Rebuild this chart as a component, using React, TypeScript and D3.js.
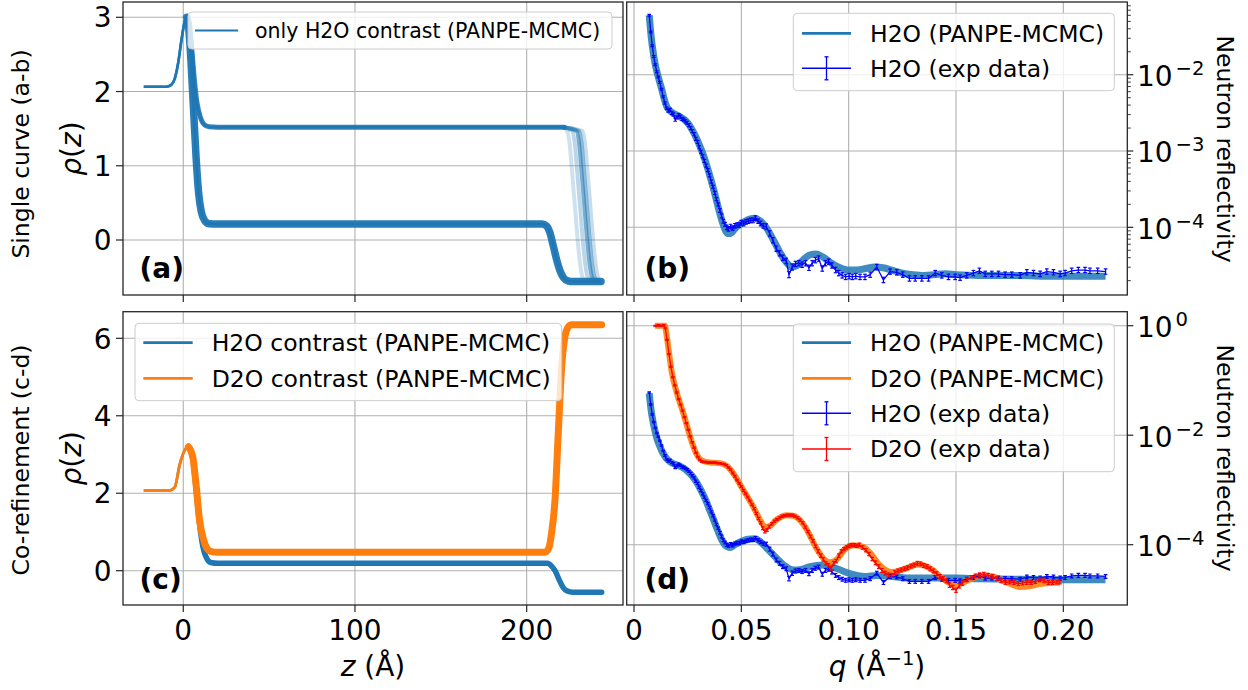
import React from 'react';
import * as d3 from 'd3';

type P = [number, number];
type E = [number, number, number];

const FONT = "'DejaVu Sans', sans-serif";
const BLUE = '#1f77b4';
const ORANGE = '#ff7f0e';
const EXP_BLUE = '#0000ff';
const EXP_RED = '#ff0000';

// ---------- ticks ----------
const zTicks = [0, 100, 200];
const zTickLabels = ['0', '100', '200'];
const rhoTicksA = [0, 1, 2, 3];
const rhoTicksC = [0, 2, 4, 6];
const qTicks = [0, 0.05, 0.1, 0.15, 0.2];
const qTickLabels = ['0', '0.05', '0.10', '0.15', '0.20'];
const logTicksB = [-2, -3, -4];
const logTicksD = [0, -2, -4];

// ---------- panel (a): SLD profiles, single H2O contrast ----------
const profALower: P[] = [[-23, 2.065], [-10, 2.065], [-7, 2.09], [-5, 2.17], [-3, 2.38], [-1, 2.7], [1, 2.96], [2, 3.0], [3, 2.9], [4.5, 2.4], [6, 1.75], [7.5, 1.1], [9, 0.62], [10.5, 0.38], [12.5, 0.26], [15, 0.22], [20, 0.215], [209, 0.215], [211.5, 0.19], [213.5, 0.1], [215.5, -0.08], [217.5, -0.27], [219.5, -0.42], [221.5, -0.51], [224, -0.55], [227, -0.56], [243.3, -0.56]];
const profAUpper: P[] = [[-23, 2.065], [-10, 2.065], [-7, 2.09], [-5, 2.17], [-3, 2.38], [-1, 2.7], [1, 2.96], [2, 3.0], [3.5, 2.85], [5, 2.55], [6.5, 2.15], [8, 1.85], [10, 1.65], [12, 1.56], [15, 1.525], [20, 1.52], [222, 1.52]];
const profAUpperEdges: P[][] = [
  [[221, 1.52], [223.5, 1.47], [225, 1.3], [226.5, 0.9], [228, 0.48], [229.5, 0.05], [231, -0.3], [232.5, -0.5], [235, -0.56], [243.3, -0.56]],
  [[221, 1.52], [226.5, 1.47], [228, 1.3], [229.5, 0.9], [231, 0.48], [232.5, 0.05], [234, -0.3], [235.5, -0.5], [238, -0.56], [243.3, -0.56]],
  [[221, 1.52], [229, 1.47], [230.5, 1.3], [232, 0.9], [233.5, 0.48], [235, 0.05], [236.5, -0.3], [238, -0.5], [240.5, -0.56], [243.3, -0.56]],
  [[221, 1.52], [230.5, 1.47], [232, 1.3], [233.5, 0.9], [235, 0.48], [236.5, 0.05], [238, -0.3], [239.5, -0.5], [242, -0.56], [243.3, -0.56]],
  [[221, 1.52], [232.5, 1.47], [234, 1.3], [235.5, 0.9], [237, 0.48], [238.5, 0.05], [240, -0.3], [241.5, -0.5], [243, -0.56], [243.3, -0.56]],
];
const profAUpperEdgeAlpha = [0.22, 0.3, 0.6, 0.5, 0.25];

// ---------- panel (c): SLD profiles, co-refinement ----------
const profCH2O: P[] = [[-23, 2.07], [-8, 2.07], [-5, 2.15], [-2, 2.75], [1, 3.12], [3, 3.2], [5.5, 2.9], [7.5, 2.1], [9.5, 1.2], [11.5, 0.6], [13.5, 0.33], [16, 0.21], [20, 0.19], [212, 0.19], [214.5, 0.12], [216.5, 0.0], [219.4, -0.28], [221.5, -0.45], [223.3, -0.52], [227, -0.56], [243.7, -0.56]];
const profCD2O: P[] = [[-23, 2.07], [-8, 2.07], [-5, 2.15], [-2, 2.75], [1, 3.12], [3, 3.2], [5.5, 2.95], [7.5, 2.2], [9.5, 1.3], [11.5, 0.85], [13.5, 0.6], [16, 0.5], [20, 0.475], [210.7, 0.475], [213, 0.6], [214.5, 0.97], [216.5, 1.83], [218.4, 3.55], [220.4, 5.27], [222.3, 6.05], [224, 6.28], [226.2, 6.35], [243.7, 6.35]];

// ---------- reflectivity: log10(R) vs q ----------
const modelB_H2O: P[] = [[0.0071, -1.22], [0.008, -1.5], [0.009, -1.72], [0.01, -1.88], [0.011, -2.0], [0.012, -2.1], [0.013, -2.2], [0.014, -2.31], [0.015, -2.4], [0.016, -2.45], [0.018, -2.5], [0.02, -2.53], [0.022, -2.56], [0.024, -2.6], [0.026, -2.67], [0.028, -2.77], [0.03, -2.89], [0.032, -3.03], [0.034, -3.2], [0.036, -3.39], [0.038, -3.6], [0.04, -3.82], [0.042, -4.0], [0.0435, -4.08], [0.045, -4.08], [0.047, -4.02], [0.05, -3.95], [0.053, -3.9], [0.056, -3.88], [0.059, -3.92], [0.062, -4.02], [0.065, -4.17], [0.068, -4.33], [0.071, -4.46], [0.0735, -4.52], [0.076, -4.5], [0.079, -4.42], [0.082, -4.36], [0.085, -4.35], [0.088, -4.39], [0.092, -4.47], [0.096, -4.53], [0.1, -4.56], [0.104, -4.56], [0.108, -4.54], [0.112, -4.52], [0.116, -4.53], [0.12, -4.56], [0.125, -4.6], [0.13, -4.62], [0.135, -4.63], [0.14, -4.62], [0.145, -4.61], [0.15, -4.62], [0.16, -4.63], [0.17, -4.63], [0.18, -4.63], [0.19, -4.64], [0.2, -4.64], [0.21, -4.64], [0.2197, -4.64]];
const modelD_H2O: P[] = [[0.0071, -1.235], [0.008, -1.55], [0.009, -1.78], [0.01, -1.96], [0.011, -2.1], [0.012, -2.2], [0.013, -2.29], [0.014, -2.36], [0.015, -2.42], [0.017, -2.49], [0.019, -2.53], [0.021, -2.56], [0.023, -2.6], [0.025, -2.66], [0.027, -2.74], [0.029, -2.85], [0.031, -2.99], [0.033, -3.15], [0.035, -3.34], [0.037, -3.54], [0.039, -3.74], [0.041, -3.92], [0.043, -4.03], [0.0447, -4.05], [0.047, -4.0], [0.05, -3.94], [0.053, -3.9], [0.0564, -3.89], [0.059, -3.95], [0.062, -4.07], [0.0665, -4.25], [0.07, -4.38], [0.0742, -4.46], [0.078, -4.45], [0.082, -4.4], [0.0882, -4.37], [0.094, -4.43], [0.1, -4.52], [0.1075, -4.58], [0.113, -4.56], [0.12, -4.58], [0.13, -4.61], [0.14, -4.61], [0.15, -4.61], [0.16, -4.62], [0.18, -4.63], [0.2, -4.64], [0.2196, -4.64]];
const modelD_D2O: P[] = [[0.0098, 0.0], [0.0144, 0.0], [0.0152, -0.18], [0.0176, -0.85], [0.0199, -1.22], [0.023, -1.6], [0.0269, -2.12], [0.0292, -2.35], [0.0315, -2.46], [0.0354, -2.5], [0.04, -2.51], [0.0432, -2.56], [0.0463, -2.7], [0.0509, -3.0], [0.0556, -3.31], [0.0595, -3.6], [0.061, -3.68], [0.0633, -3.66], [0.0665, -3.54], [0.0711, -3.46], [0.0742, -3.47], [0.0773, -3.55], [0.0804, -3.72], [0.0851, -4.07], [0.089, -4.28], [0.0913, -4.32], [0.0944, -4.27], [0.0983, -4.08], [0.1021, -4.01], [0.1068, -4.04], [0.11, -4.15], [0.1146, -4.38], [0.12, -4.5], [0.1254, -4.45], [0.1324, -4.36], [0.1387, -4.45], [0.1433, -4.6], [0.1472, -4.7], [0.151, -4.72], [0.155, -4.66], [0.1627, -4.56], [0.1673, -4.58], [0.172, -4.66], [0.1767, -4.74], [0.1798, -4.77], [0.1844, -4.76], [0.189, -4.72], [0.1938, -4.7], [0.1984, -4.69]];

// experimental data: [q, log10 R, error in log10 units]
const expH2O: E[] = [[0.0071, -1.22, 0.012], [0.0078, -1.44, 0.012], [0.0085, -1.62, 0.012], [0.0092, -1.76, 0.012], [0.0099, -1.87, 0.012], [0.0106, -1.96, 0.012], [0.0113, -2.03, 0.012], [0.012, -2.1, 0.012], [0.0128, -2.19, 0.012], [0.0136, -2.29, 0.012], [0.0144, -2.37, 0.015], [0.0152, -2.44, 0.015], [0.016, -2.47, 0.02], [0.0168, -2.46, 0.02], [0.0176, -2.5, 0.02], [0.0184, -2.52, 0.02], [0.0192, -2.59, 0.02], [0.02, -2.56, 0.02], [0.0208, -2.53, 0.02], [0.0216, -2.55, 0.02], [0.0224, -2.58, 0.02], [0.0232, -2.59, 0.02], [0.024, -2.61, 0.02], [0.0248, -2.63, 0.02], [0.0256, -2.66, 0.02], [0.0264, -2.7, 0.02], [0.0272, -2.74, 0.02], [0.028, -2.78, 0.02], [0.0288, -2.84, 0.02], [0.0296, -2.88, 0.02], [0.0304, -2.95, 0.02], [0.0312, -3.01, 0.02], [0.032, -3.07, 0.02], [0.0328, -3.13, 0.02], [0.0336, -3.19, 0.02], [0.0344, -3.25, 0.02], [0.0352, -3.32, 0.02], [0.036, -3.4, 0.02], [0.0368, -3.47, 0.02], [0.0376, -3.55, 0.02], [0.0384, -3.63, 0.02], [0.0392, -3.7, 0.02], [0.04, -3.78, 0.025], [0.0408, -3.85, 0.025], [0.0416, -3.92, 0.025], [0.0424, -3.96, 0.025], [0.0432, -4.0, 0.03], [0.044, -4.02, 0.03], [0.045, -3.99, 0.03], [0.046, -4.01, 0.03], [0.047, -3.98, 0.03], [0.048, -3.97, 0.03], [0.049, -3.97, 0.03], [0.05, -3.94, 0.03], [0.0511, -3.95, 0.03], [0.0522, -3.93, 0.03], [0.0533, -3.92, 0.03], [0.0544, -3.91, 0.03], [0.0555, -3.91, 0.03], [0.0566, -3.88, 0.03], [0.0578, -3.92, 0.03], [0.059, -3.95, 0.03], [0.0602, -3.98, 0.03], [0.0616, -3.99, 0.035], [0.0632, -4.08, 0.035], [0.0647, -4.17, 0.035], [0.0663, -4.28, 0.035], [0.0678, -4.34, 0.035], [0.0693, -4.4, 0.035], [0.0709, -4.44, 0.035], [0.0722, -4.62, 0.04], [0.0737, -4.52, 0.04], [0.0752, -4.48, 0.035], [0.0768, -4.47, 0.035], [0.0783, -4.49, 0.035], [0.0799, -4.47, 0.035], [0.0815, -4.53, 0.035], [0.083, -4.47, 0.035], [0.0845, -4.43, 0.035], [0.086, -4.41, 0.035], [0.0877, -4.54, 0.035], [0.0892, -4.47, 0.035], [0.0907, -4.45, 0.035], [0.0922, -4.5, 0.035], [0.0939, -4.56, 0.035], [0.0954, -4.6, 0.035], [0.097, -4.63, 0.035], [0.0986, -4.65, 0.035], [0.1002, -4.64, 0.035], [0.1017, -4.65, 0.035], [0.1033, -4.64, 0.035], [0.1053, -4.65, 0.035], [0.1076, -4.65, 0.035], [0.11, -4.62, 0.035], [0.1131, -4.52, 0.035], [0.1162, -4.69, 0.035], [0.1193, -4.58, 0.035], [0.1224, -4.59, 0.035], [0.1252, -4.62, 0.035], [0.1283, -4.67, 0.035], [0.131, -4.67, 0.035], [0.1341, -4.67, 0.035], [0.1372, -4.67, 0.035], [0.1403, -4.6, 0.035], [0.1434, -4.63, 0.035], [0.1465, -4.65, 0.035], [0.1496, -4.65, 0.035], [0.1519, -4.66, 0.035], [0.155, -4.63, 0.035], [0.1581, -4.6, 0.035], [0.1609, -4.57, 0.035], [0.1636, -4.61, 0.035], [0.1667, -4.61, 0.035], [0.1698, -4.61, 0.035], [0.1729, -4.62, 0.035], [0.176, -4.62, 0.035], [0.1799, -4.63, 0.035], [0.183, -4.59, 0.035], [0.1861, -4.6, 0.035], [0.1892, -4.61, 0.035], [0.1923, -4.58, 0.035], [0.1954, -4.59, 0.035], [0.1985, -4.61, 0.035], [0.2008, -4.6, 0.035], [0.2039, -4.57, 0.035], [0.207, -4.56, 0.035], [0.2101, -4.56, 0.035], [0.2124, -4.57, 0.035], [0.216, -4.57, 0.035], [0.2197, -4.58, 0.035]];
const expD2O: E[] = [[0.0098, 0.0, 0.008], [0.0106, 0.0, 0.008], [0.0114, 0.01, 0.008], [0.0122, 0.0, 0.008], [0.013, 0.0, 0.008], [0.0138, 0.01, 0.008], [0.0146, -0.05, 0.01], [0.0154, -0.26, 0.01], [0.0163, -0.52, 0.01], [0.0172, -0.75, 0.01], [0.0181, -0.94, 0.01], [0.019, -1.09, 0.01], [0.0199, -1.22, 0.01], [0.0208, -1.34, 0.01], [0.0217, -1.44, 0.01], [0.0226, -1.55, 0.01], [0.0235, -1.67, 0.01], [0.0244, -1.78, 0.01], [0.0253, -1.9, 0.01], [0.0262, -2.02, 0.012], [0.0271, -2.13, 0.012], [0.028, -2.23, 0.012], [0.0289, -2.32, 0.012], [0.0298, -2.4, 0.012], [0.0307, -2.45, 0.012], [0.0316, -2.48, 0.012], [0.0325, -2.49, 0.012], [0.0334, -2.49, 0.012], [0.0343, -2.5, 0.012], [0.0352, -2.5, 0.012], [0.0361, -2.5, 0.012], [0.037, -2.5, 0.012], [0.038, -2.5, 0.012], [0.039, -2.51, 0.012], [0.04, -2.51, 0.012], [0.041, -2.52, 0.012], [0.042, -2.53, 0.012], [0.043, -2.55, 0.012], [0.044, -2.59, 0.012], [0.045, -2.63, 0.015], [0.046, -2.69, 0.015], [0.047, -2.75, 0.015], [0.048, -2.82, 0.015], [0.049, -2.88, 0.015], [0.05, -2.94, 0.015], [0.051, -3.01, 0.015], [0.052, -3.07, 0.015], [0.053, -3.13, 0.015], [0.054, -3.2, 0.015], [0.055, -3.27, 0.015], [0.056, -3.34, 0.02], [0.057, -3.43, 0.02], [0.058, -3.52, 0.02], [0.059, -3.6, 0.02], [0.06, -3.7, 0.025], [0.061, -3.76, 0.025], [0.062, -3.73, 0.025], [0.063, -3.67, 0.025], [0.0642, -3.62, 0.02], [0.0654, -3.57, 0.02], [0.0666, -3.54, 0.02], [0.0678, -3.51, 0.02], [0.069, -3.48, 0.02], [0.0702, -3.47, 0.02], [0.0714, -3.46, 0.02], [0.0726, -3.46, 0.02], [0.0738, -3.46, 0.02], [0.075, -3.48, 0.02], [0.0762, -3.51, 0.02], [0.0774, -3.55, 0.02], [0.0786, -3.6, 0.02], [0.0798, -3.68, 0.02], [0.081, -3.76, 0.02], [0.0822, -3.85, 0.025], [0.0834, -3.93, 0.025], [0.0846, -4.03, 0.025], [0.0858, -4.12, 0.03], [0.087, -4.2, 0.03], [0.0882, -4.27, 0.03], [0.0894, -4.34, 0.03], [0.0906, -4.38, 0.035], [0.0918, -4.43, 0.035], [0.093, -4.34, 0.035], [0.0942, -4.3, 0.03], [0.0954, -4.2, 0.03], [0.0966, -4.12, 0.03], [0.0978, -4.08, 0.03], [0.099, -4.05, 0.03], [0.1002, -4.02, 0.03], [0.1014, -4.01, 0.03], [0.1026, -4.01, 0.03], [0.1038, -4.02, 0.03], [0.105, -4.0, 0.03], [0.1065, -4.05, 0.03], [0.108, -4.1, 0.03], [0.1095, -4.17, 0.03], [0.111, -4.26, 0.03], [0.1125, -4.33, 0.035], [0.114, -4.4, 0.035], [0.1155, -4.47, 0.035], [0.117, -4.52, 0.035], [0.1185, -4.55, 0.035], [0.12, -4.56, 0.035], [0.1215, -4.51, 0.035], [0.123, -4.48, 0.035], [0.1245, -4.46, 0.035], [0.126, -4.44, 0.035], [0.1275, -4.42, 0.035], [0.129, -4.39, 0.035], [0.1305, -4.37, 0.035], [0.132, -4.34, 0.035], [0.1335, -4.35, 0.035], [0.135, -4.38, 0.035], [0.1365, -4.4, 0.035], [0.138, -4.44, 0.035], [0.1395, -4.48, 0.035], [0.141, -4.53, 0.035], [0.1425, -4.58, 0.035], [0.144, -4.62, 0.035], [0.1455, -4.66, 0.035], [0.147, -4.74, 0.04], [0.1485, -4.78, 0.04], [0.15, -4.83, 0.04], [0.1515, -4.75, 0.04], [0.153, -4.7, 0.04], [0.155, -4.64, 0.035], [0.157, -4.6, 0.035], [0.159, -4.57, 0.035], [0.161, -4.55, 0.035], [0.163, -4.54, 0.035], [0.165, -4.56, 0.035], [0.167, -4.58, 0.035], [0.169, -4.62, 0.035], [0.171, -4.66, 0.035], [0.173, -4.69, 0.035], [0.175, -4.68, 0.035], [0.177, -4.69, 0.035], [0.179, -4.71, 0.035], [0.181, -4.7, 0.035], [0.183, -4.69, 0.035], [0.185, -4.69, 0.035], [0.187, -4.67, 0.035], [0.189, -4.64, 0.035], [0.191, -4.66, 0.035], [0.193, -4.69, 0.035], [0.195, -4.69, 0.035], [0.197, -4.68, 0.035], [0.1984, -4.68, 0.035]];

// ---------- layout ----------
const LEFT = { x0: 123, x1: 623 };
const RIGHT = { x0: 626.7, x1: 1127.3 };
const TOP = { y0: 2, y1: 295 };
const BOT = { y0: 311.7, y1: 605 };
const TICK_FS = 28;
const LEG_FS = 23.5;

const zScale = d3.scaleLinear().domain([-35.1, 256.1]).range([LEFT.x0, LEFT.x1]);
const rhoA = d3.scaleLinear().domain([-0.741, 3.206]).range([TOP.y1, TOP.y0]);
const rhoC = d3.scaleLinear().domain([-0.886, 6.687]).range([BOT.y1, BOT.y0]);
const qScale = d3.scaleLinear().domain([-0.0034, 0.2298]).range([RIGHT.x0, RIGHT.x1]);
const RB = d3.scaleLog().domain([Math.pow(10, -4.887), Math.pow(10, -1.047)]).range([TOP.y1, TOP.y0]);
const RD = d3.scaleLog().domain([Math.pow(10, -5.101), Math.pow(10, 0.2557)]).range([BOT.y1, BOT.y0]);

function profPath(data: P[], ys: d3.ScaleLinear<number, number>) {
  return d3.line<P>().x(d => zScale(d[0])).y(d => ys(d[1])).curve(d3.curveMonotoneX)(data) || '';
}
function reflPath(data: P[], ys: d3.ScaleLogarithmic<number, number>, smooth: boolean) {
  const l = d3.line<P>().x(d => qScale(d[0])).y(d => ys(Math.pow(10, d[1])));
  if (smooth) l.curve(d3.curveMonotoneX);
  return l(data) || '';
}

function Grid({ xs, ys, box }: { xs: number[]; ys: number[]; box: { x0: number; x1: number; y0: number; y1: number } }) {
  return (
    <g stroke="#b0b0b0" strokeWidth={1.1}>
      {xs.map((x, i) => <line key={'x' + i} x1={x} x2={x} y1={box.y0} y2={box.y1} />)}
      {ys.map((y, i) => <line key={'y' + i} x1={box.x0} x2={box.x1} y1={y} y2={y} />)}
    </g>
  );
}

function Frame({ box }: { box: { x0: number; x1: number; y0: number; y1: number } }) {
  return <rect x={box.x0} y={box.y0} width={box.x1 - box.x0} height={box.y1 - box.y0} fill="none" stroke="#262626" strokeWidth={1.3} />;
}

function ExpData({ data, ys, color }: { data: E[]; ys: d3.ScaleLogarithmic<number, number>; color: string }) {
  const pts: P[] = data.map(d => [d[0], d[1]]);
  return (
    <g>
      <path d={reflPath(pts, ys, false)} fill="none" stroke={color} strokeWidth={1.3} />
      <g stroke={color} strokeWidth={1.2}>
        {data.map((d, i) => {
          const x = qScale(d[0]);
          const yT = ys(Math.pow(10, d[1] + d[2]));
          const yB = ys(Math.pow(10, d[1] - d[2]));
          return (
            <g key={i}>
              <line x1={x} x2={x} y1={yT} y2={yB} />
              <line x1={x - 1.8} x2={x + 1.8} y1={yT} y2={yT} />
              <line x1={x - 1.8} x2={x + 1.8} y1={yB} y2={yB} />
            </g>
          );
        })}
      </g>
    </g>
  );
}

type LegItem = { label: string; kind: 'line' | 'err'; color: string; width: number };
function Legend({ x0, x1, y0, y1, rows, items, fs, hx0, hx1, tx }: { x0: number; x1: number; y0: number; y1: number; rows: number[]; items: LegItem[]; fs: number; hx0: number; hx1: number; tx: number }) {
  const hc = (hx0 + hx1) / 2;
  return (
    <g>
      <rect x={x0} y={y0} width={x1 - x0} height={y1 - y0} rx={4} ry={4} fill="#ffffff" fillOpacity={0.8} stroke="#cccccc" strokeWidth={1} />
      {items.map((it, i) => (
        <g key={i}>
          <line x1={hx0} x2={hx1} y1={rows[i]} y2={rows[i]} stroke={it.color} strokeWidth={it.width} />
          {it.kind === 'err' && (
            <g stroke={it.color} strokeWidth={1.3}>
              <line x1={hc} x2={hc} y1={rows[i] - 11.5} y2={rows[i] + 11.5} />
              <line x1={hc - 2} x2={hc + 2} y1={rows[i] - 11.5} y2={rows[i] - 11.5} />
              <line x1={hc - 2} x2={hc + 2} y1={rows[i] + 11.5} y2={rows[i] + 11.5} />
            </g>
          )}
          <text x={tx} y={rows[i] + fs * 0.36} fontSize={fs} fill="#000">{it.label}</text>
        </g>
      ))}
    </g>
  );
}

function PowLabel({ x, y, exp }: { x: number; y: number; exp: number }) {
  const e = exp === 0 ? '0' : '\u2212' + Math.abs(exp);
  return (
    <g fill="#000">
      <text x={x} y={y} fontSize={TICK_FS}>10</text>
      <text x={x + 38.5} y={y - 11} fontSize={TICK_FS * 0.7}>{e}</text>
    </g>
  );
}

export default function App() {
  const boxA = { ...LEFT, ...TOP };
  const boxB = { ...RIGHT, ...TOP };
  const boxC = { ...LEFT, ...BOT };
  const boxD = { ...RIGHT, ...BOT };
  const TL = 7;

  const minorB: number[] = [];
  for (let dec = -5; dec <= -2; dec++) {
    for (let m = 2; m <= 9; m++) {
      const v = m * Math.pow(10, dec);
      const [lo, hi] = RB.domain();
      if (v > lo && v < hi) minorB.push(v);
    }
  }

  // the posterior spread widens after the peak: draw that part thicker
  const thick = (d: P[]) => d.filter(p => p[0] >= 2);

  return (
    <svg width={1248} height={690} style={{ position: 'absolute', left: 0, top: 0, background: '#fff' }} fontFamily={FONT}>
      <defs>
        {[['cA', boxA], ['cB', boxB], ['cC', boxC], ['cD', boxD]].map(([id, b]: any) => (
          <clipPath id={id} key={id}>
            <rect x={b.x0} y={b.y0} width={b.x1 - b.x0} height={b.y1 - b.y0} />
          </clipPath>
        ))}
      </defs>
      <rect x={0} y={0} width={1248} height={690} fill="#fff" />

      {/* ---------- panel (a) ---------- */}
      <Grid xs={zTicks.map(zScale)} ys={rhoTicksA.map(rhoA)} box={boxA} />
      <g clipPath="url(#cA)" fill="none" strokeLinejoin="round">
        {profAUpperEdges.map((d, i) => (
          <path key={i} d={profPath(d, rhoA)} stroke={BLUE} strokeWidth={4} strokeOpacity={profAUpperEdgeAlpha[i]} />
        ))}
        <path d={profPath(profAUpper, rhoA)} stroke={BLUE} strokeWidth={2.6} />
        <path d={profPath(thick(profAUpper), rhoA)} stroke={BLUE} strokeWidth={5} strokeOpacity={0.9} strokeLinecap="round" />
        <path d={profPath(profALower, rhoA)} stroke={BLUE} strokeWidth={2.6} />
        <path d={profPath(thick(profALower), rhoA)} stroke={BLUE} strokeWidth={7.5} strokeOpacity={0.95} strokeLinecap="round" />
      </g>
      <text x={139.5} y={278} fontSize={28} fontWeight="bold">(a)</text>
      <Legend x0={188} x1={612} y0={12} y1={49} rows={[30.5]} fs={20.5} hx0={195} hx1={238} tx={255}
        items={[{ label: 'only H2O contrast (PANPE-MCMC)', kind: 'line', color: BLUE, width: 2.2 }]} />
      <Frame box={boxA} />
      <g stroke="#262626" strokeWidth={1.2}>
        {rhoTicksA.map(t => <line key={t} x1={LEFT.x0 - TL} x2={LEFT.x0} y1={rhoA(t)} y2={rhoA(t)} />)}
        {zTicks.map(t => <line key={t} x1={zScale(t)} x2={zScale(t)} y1={TOP.y1} y2={TOP.y1 + TL} />)}
      </g>
      {rhoTicksA.map(t => <text key={t} x={111.5} y={rhoA(t) + 10.2} fontSize={TICK_FS} textAnchor="end">{t}</text>)}
      <text transform="translate(81,148.5) rotate(-90)" fontSize={28} textAnchor="middle">
        <tspan fontStyle="italic">ρ</tspan>(<tspan fontStyle="italic">z</tspan>)
      </text>
      <text transform="translate(29,154) rotate(-90)" fontSize={LEG_FS} textAnchor="middle">Single curve (a-b)</text>

      {/* ---------- panel (b) ---------- */}
      <Grid xs={qTicks.map(qScale)} ys={logTicksB.map(e => RB(Math.pow(10, e)))} box={boxB} />
      <g clipPath="url(#cB)" fill="none" strokeLinejoin="round">
        <path d={reflPath(modelB_H2O, RB, true)} stroke={BLUE} strokeWidth={7} strokeOpacity={0.85} />
        <ExpData data={expH2O} ys={RB} color={EXP_BLUE} />
      </g>
      <text x={644.5} y={278} fontSize={28} fontWeight="bold">(b)</text>
      <Legend x0={793.3} x1={1114.3} y0={13.3} y1={90.7} rows={[33.3, 68.3]} fs={LEG_FS} hx0={802} hx1={851} tx={870}
        items={[
          { label: 'H2O (PANPE-MCMC)', kind: 'line', color: BLUE, width: 2.7 },
          { label: 'H2O (exp data)', kind: 'err', color: EXP_BLUE, width: 1.4 },
        ]} />
      <Frame box={boxB} />
      <g stroke="#262626" strokeWidth={1.2}>
        {logTicksB.map(e => <line key={e} x1={RIGHT.x1} x2={RIGHT.x1 + 6} y1={RB(Math.pow(10, e))} y2={RB(Math.pow(10, e))} />)}
        {minorB.map((v, i) => <line key={i} x1={RIGHT.x1} x2={RIGHT.x1 + 3.5} y1={RB(v)} y2={RB(v)} strokeWidth={0.9} />)}
        {qTicks.map(t => <line key={t} x1={qScale(t)} x2={qScale(t)} y1={TOP.y1} y2={TOP.y1 + TL} />)}
      </g>
      {logTicksB.map(e => <PowLabel key={e} x={1137} y={RB(Math.pow(10, e)) + 11.3} exp={e} />)}
      <text transform="translate(1217,149) rotate(90)" fontSize={LEG_FS} textAnchor="middle">Neutron reflectivity</text>

      {/* ---------- panel (c) ---------- */}
      <Grid xs={zTicks.map(zScale)} ys={rhoTicksC.map(rhoC)} box={boxC} />
      <g clipPath="url(#cC)" fill="none" strokeLinejoin="round">
        <path d={profPath(profCH2O, rhoC)} stroke={BLUE} strokeWidth={2.6} />
        <path d={profPath(thick(profCH2O), rhoC)} stroke={BLUE} strokeWidth={5.5} strokeLinecap="round" />
        <path d={profPath(profCD2O, rhoC)} stroke={ORANGE} strokeWidth={2.8} />
        <path d={profPath(thick(profCD2O), rhoC)} stroke={ORANGE} strokeWidth={7} strokeLinecap="round" />
      </g>
      <text x={139.5} y={589} fontSize={28} fontWeight="bold">(c)</text>
      <Legend x0={135} x1={561.7} y0={323.3} y1={400.7} rows={[342.7, 378.3]} fs={LEG_FS} hx0={143.3} hx1={192.7} tx={211.7}
        items={[
          { label: 'H2O contrast (PANPE-MCMC)', kind: 'line', color: BLUE, width: 2.7 },
          { label: 'D2O contrast (PANPE-MCMC)', kind: 'line', color: ORANGE, width: 2.7 },
        ]} />
      <Frame box={boxC} />
      <g stroke="#262626" strokeWidth={1.2}>
        {rhoTicksC.map(t => <line key={t} x1={LEFT.x0 - TL} x2={LEFT.x0} y1={rhoC(t)} y2={rhoC(t)} />)}
        {zTicks.map(t => <line key={t} x1={zScale(t)} x2={zScale(t)} y1={BOT.y1} y2={BOT.y1 + TL} />)}
      </g>
      {rhoTicksC.map(t => <text key={t} x={111.5} y={rhoC(t) + 10.2} fontSize={TICK_FS} textAnchor="end">{t}</text>)}
      {zTicks.map((t, i) => <text key={t} x={zScale(t)} y={640} fontSize={TICK_FS} textAnchor="middle">{zTickLabels[i]}</text>)}
      <text transform="translate(81,458.3) rotate(-90)" fontSize={28} textAnchor="middle">
        <tspan fontStyle="italic">ρ</tspan>(<tspan fontStyle="italic">z</tspan>)
      </text>
      <text transform="translate(29,460) rotate(-90)" fontSize={LEG_FS} textAnchor="middle">Co-refinement (c-d)</text>
      <text x={373} y={676} fontSize={28} textAnchor="middle">
        <tspan fontStyle="italic">z</tspan> (Å)
      </text>

      {/* ---------- panel (d) ---------- */}
      <Grid xs={qTicks.map(qScale)} ys={logTicksD.map(e => RD(Math.pow(10, e)))} box={boxD} />
      <g clipPath="url(#cD)" fill="none" strokeLinejoin="round">
        <path d={reflPath(modelD_H2O, RD, true)} stroke={BLUE} strokeWidth={7} strokeOpacity={0.85} />
        <path d={reflPath(modelD_D2O, RD, true)} stroke={ORANGE} strokeWidth={6} strokeOpacity={0.9} />
        <ExpData data={expH2O} ys={RD} color={EXP_BLUE} />
        <ExpData data={expD2O} ys={RD} color={EXP_RED} />
      </g>
      <text x={644.5} y={589} fontSize={28} fontWeight="bold">(d)</text>
      <Legend x0={793.3} x1={1114.3} y0={324} y1={471.7} rows={[342.7, 378.3, 413.3, 449]} fs={LEG_FS} hx0={802} hx1={851} tx={870}
        items={[
          { label: 'H2O (PANPE-MCMC)', kind: 'line', color: BLUE, width: 2.7 },
          { label: 'D2O (PANPE-MCMC)', kind: 'line', color: ORANGE, width: 2.7 },
          { label: 'H2O (exp data)', kind: 'err', color: EXP_BLUE, width: 1.4 },
          { label: 'D2O (exp data)', kind: 'err', color: EXP_RED, width: 1.4 },
        ]} />
      <Frame box={boxD} />
      <g stroke="#262626" strokeWidth={1.2}>
        {logTicksD.map(e => <line key={e} x1={RIGHT.x1} x2={RIGHT.x1 + 6} y1={RD(Math.pow(10, e))} y2={RD(Math.pow(10, e))} />)}
        {qTicks.map(t => <line key={t} x1={qScale(t)} x2={qScale(t)} y1={BOT.y1} y2={BOT.y1 + TL} />)}
      </g>
      {logTicksD.map(e => <PowLabel key={e} x={1137} y={RD(Math.pow(10, e)) + 11.3} exp={e} />)}
      {qTicks.map((t, i) => <text key={t} x={qScale(t)} y={640} fontSize={TICK_FS} textAnchor="middle">{qTickLabels[i]}</text>)}
      <text transform="translate(1217,458) rotate(90)" fontSize={LEG_FS} textAnchor="middle">Neutron reflectivity</text>
      <text x={877} y={676} fontSize={28} textAnchor="middle">
        <tspan fontStyle="italic">q</tspan> (Å<tspan fontSize={19.6} dy={-11}>−1</tspan><tspan dy={11}>)</tspan>
      </text>
    </svg>
  );
}
